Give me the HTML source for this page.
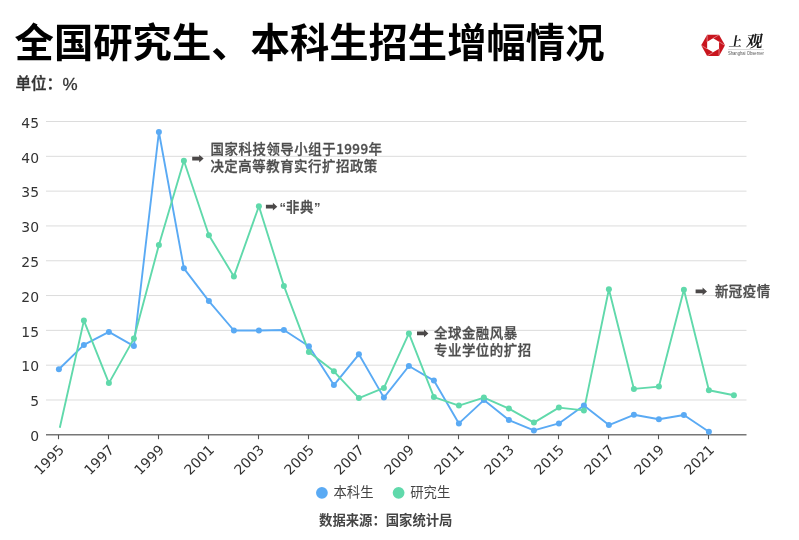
<!DOCTYPE html>
<html lang="zh-CN">
<head>
<meta charset="utf-8">
<title>全国研究生、本科生招生增幅情况</title>
<style>
html,body{margin:0;padding:0;background:#fff;}
body{width:799px;height:540px;overflow:hidden;position:relative;font-family:"Liberation Sans","Noto Sans CJK SC",sans-serif;}
#title{position:absolute;left:14.6px;top:10.7px;margin:0;font-size:39.35px;line-height:58px;font-weight:700;color:#000;white-space:nowrap;letter-spacing:0;font-family:"Noto Sans CJK SC","Liberation Sans",sans-serif;}
#unit{position:absolute;left:15.5px;top:71px;font-size:15.5px;line-height:22px;font-weight:500;color:#333;white-space:nowrap;font-family:"Liberation Sans","Noto Sans CJK SC",sans-serif;}
#unit .cn{font-family:"Noto Sans CJK SC",sans-serif;font-weight:500;-webkit-text-stroke:0.35px #333;}
#unit .pc{-webkit-text-stroke:0.3px #333;font-size:17px;position:relative;left:0.5px;top:0.5px;}
#chart{position:absolute;left:0;top:0;}
#chart text{font-family:"Liberation Sans","Noto Sans CJK SC",sans-serif;}
.ax text{font-family:"DejaVu Sans","Liberation Sans",sans-serif !important;font-size:13.9px;fill:#333;}
.note text{font-size:13.4px;letter-spacing:0.56px;font-weight:500;fill:#4d4d4d;stroke:#4d4d4d;stroke-width:0.3px;font-family:"Noto Sans CJK SC","Liberation Sans",sans-serif;}
#chart .note tspan.num{font-family:"Noto Sans CJK SC",sans-serif;letter-spacing:0.45px;}
#chart .note tspan.q{font-family:"Liberation Sans",sans-serif;font-weight:700;font-size:13px;stroke:none;letter-spacing:0;}
.legend text{font-size:13.33px;fill:#444;font-family:"Noto Sans CJK SC","Liberation Sans",sans-serif;}
.src{font-size:13.33px;font-weight:700;fill:#444;font-family:"Noto Sans CJK SC","Liberation Sans",sans-serif;}
#chart text.logo-cn{font-family:"Noto Serif CJK SC","Liberation Serif",serif;font-size:14px;font-weight:700;fill:#1a1a1a;}
#chart text.logo-en{font-family:"Liberation Sans",sans-serif;font-size:4.5px;fill:#555;}
</style>
</head>
<body>
<h1 id="title">全国研究生、本科生招生增幅情况</h1>
<div id="unit"><span class="cn">单位：</span><span class="pc">%</span></div>
<svg id="chart" width="799" height="540" viewBox="0 0 799 540">
<g class="grid">
<line x1="46" x2="746.5" y1="399.99" y2="399.99" stroke="#dcdcdc" stroke-width="1"/>
<line x1="46" x2="746.5" y1="365.18" y2="365.18" stroke="#dcdcdc" stroke-width="1"/>
<line x1="46" x2="746.5" y1="330.37" y2="330.37" stroke="#dcdcdc" stroke-width="1"/>
<line x1="46" x2="746.5" y1="295.56" y2="295.56" stroke="#dcdcdc" stroke-width="1"/>
<line x1="46" x2="746.5" y1="260.75" y2="260.75" stroke="#dcdcdc" stroke-width="1"/>
<line x1="46" x2="746.5" y1="225.94" y2="225.94" stroke="#dcdcdc" stroke-width="1"/>
<line x1="46" x2="746.5" y1="191.13" y2="191.13" stroke="#dcdcdc" stroke-width="1"/>
<line x1="46" x2="746.5" y1="156.32" y2="156.32" stroke="#dcdcdc" stroke-width="1"/>
<line x1="46" x2="746.5" y1="121.51" y2="121.51" stroke="#dcdcdc" stroke-width="1"/>
</g>
<g class="ax">
<text x="39" y="441.10" text-anchor="end">0</text>
<text x="39" y="406.29" text-anchor="end">5</text>
<text x="39" y="371.48" text-anchor="end">10</text>
<text x="39" y="336.67" text-anchor="end">15</text>
<text x="39" y="301.86" text-anchor="end">20</text>
<text x="39" y="267.05" text-anchor="end">25</text>
<text x="39" y="232.24" text-anchor="end">30</text>
<text x="39" y="197.43" text-anchor="end">35</text>
<text x="39" y="162.62" text-anchor="end">40</text>
<text x="39" y="127.81" text-anchor="end">45</text>
<line x1="46" x2="746.5" y1="434.8" y2="434.8" stroke="#777" stroke-width="1.5"/>
<line x1="58.5" x2="58.5" y1="434.8" y2="439.2" stroke="#555" stroke-width="1.1"/>
<line x1="108.5" x2="108.5" y1="434.8" y2="439.2" stroke="#555" stroke-width="1.1"/>
<line x1="158.5" x2="158.5" y1="434.8" y2="439.2" stroke="#555" stroke-width="1.1"/>
<line x1="208.5" x2="208.5" y1="434.8" y2="439.2" stroke="#555" stroke-width="1.1"/>
<line x1="258.5" x2="258.5" y1="434.8" y2="439.2" stroke="#555" stroke-width="1.1"/>
<line x1="308.5" x2="308.5" y1="434.8" y2="439.2" stroke="#555" stroke-width="1.1"/>
<line x1="358.5" x2="358.5" y1="434.8" y2="439.2" stroke="#555" stroke-width="1.1"/>
<line x1="408.5" x2="408.5" y1="434.8" y2="439.2" stroke="#555" stroke-width="1.1"/>
<line x1="458.5" x2="458.5" y1="434.8" y2="439.2" stroke="#555" stroke-width="1.1"/>
<line x1="508.5" x2="508.5" y1="434.8" y2="439.2" stroke="#555" stroke-width="1.1"/>
<line x1="558.5" x2="558.5" y1="434.8" y2="439.2" stroke="#555" stroke-width="1.1"/>
<line x1="608.5" x2="608.5" y1="434.8" y2="439.2" stroke="#555" stroke-width="1.1"/>
<line x1="658.5" x2="658.5" y1="434.8" y2="439.2" stroke="#555" stroke-width="1.1"/>
<line x1="708.5" x2="708.5" y1="434.8" y2="439.2" stroke="#555" stroke-width="1.1"/>
<text transform="translate(65.1,450.8) rotate(-45)" text-anchor="end">1995</text>
<text transform="translate(115.1,450.8) rotate(-45)" text-anchor="end">1997</text>
<text transform="translate(165.1,450.8) rotate(-45)" text-anchor="end">1999</text>
<text transform="translate(215.1,450.8) rotate(-45)" text-anchor="end">2001</text>
<text transform="translate(265.1,450.8) rotate(-45)" text-anchor="end">2003</text>
<text transform="translate(315.1,450.8) rotate(-45)" text-anchor="end">2005</text>
<text transform="translate(365.1,450.8) rotate(-45)" text-anchor="end">2007</text>
<text transform="translate(415.1,450.8) rotate(-45)" text-anchor="end">2009</text>
<text transform="translate(465.1,450.8) rotate(-45)" text-anchor="end">2011</text>
<text transform="translate(515.1,450.8) rotate(-45)" text-anchor="end">2013</text>
<text transform="translate(565.1,450.8) rotate(-45)" text-anchor="end">2015</text>
<text transform="translate(615.1,450.8) rotate(-45)" text-anchor="end">2017</text>
<text transform="translate(665.1,450.8) rotate(-45)" text-anchor="end">2019</text>
<text transform="translate(715.1,450.8) rotate(-45)" text-anchor="end">2021</text>
</g>
<g class="series">
<polyline points="58.9,369.2 83.9,344.9 108.9,331.9 133.9,346.1 158.9,132.0 183.9,268.3 208.9,301.1 233.9,330.5 258.9,330.5 283.9,330.0 308.9,346.3 333.9,385.1 358.9,354.3 383.9,397.6 408.9,366.0 433.9,380.6 458.9,423.4 483.9,400.1 508.9,420.1 533.9,430.4 558.9,423.4 583.9,405.4 608.9,425.1 633.9,414.8 658.9,419.3 683.9,415.0 708.9,431.8" fill="none" stroke="#5aaaf4" stroke-width="1.9" stroke-linejoin="round" stroke-linecap="butt"/>
<polyline points="59.8,427.7 83.9,320.6 108.9,383.1 133.9,338.6 158.9,245.0 183.9,160.8 208.9,235.2 233.9,276.4 258.9,206.3 283.9,285.9 308.9,352.1 333.9,371.3 358.9,398.1 383.9,387.9 408.9,333.4 433.9,397.1 458.9,405.6 483.9,397.6 508.9,408.6 533.9,422.6 558.9,407.6 583.9,410.4 608.9,289.3 633.9,388.9 658.9,386.6 683.9,289.8 708.9,390.2 733.9,395.2" fill="none" stroke="#60d9ab" stroke-width="1.9" stroke-linejoin="round" stroke-linecap="butt"/>
<circle cx="58.9" cy="369.2" r="3" fill="#5aaaf4"/>
<circle cx="83.9" cy="344.9" r="3" fill="#5aaaf4"/>
<circle cx="108.9" cy="331.9" r="3" fill="#5aaaf4"/>
<circle cx="133.9" cy="346.1" r="3" fill="#5aaaf4"/>
<circle cx="158.9" cy="132.0" r="3" fill="#5aaaf4"/>
<circle cx="183.9" cy="268.3" r="3" fill="#5aaaf4"/>
<circle cx="208.9" cy="301.1" r="3" fill="#5aaaf4"/>
<circle cx="233.9" cy="330.5" r="3" fill="#5aaaf4"/>
<circle cx="258.9" cy="330.5" r="3" fill="#5aaaf4"/>
<circle cx="283.9" cy="330.0" r="3" fill="#5aaaf4"/>
<circle cx="308.9" cy="346.3" r="3" fill="#5aaaf4"/>
<circle cx="333.9" cy="385.1" r="3" fill="#5aaaf4"/>
<circle cx="358.9" cy="354.3" r="3" fill="#5aaaf4"/>
<circle cx="383.9" cy="397.6" r="3" fill="#5aaaf4"/>
<circle cx="408.9" cy="366.0" r="3" fill="#5aaaf4"/>
<circle cx="433.9" cy="380.6" r="3" fill="#5aaaf4"/>
<circle cx="458.9" cy="423.4" r="3" fill="#5aaaf4"/>
<circle cx="483.9" cy="400.1" r="3" fill="#5aaaf4"/>
<circle cx="508.9" cy="420.1" r="3" fill="#5aaaf4"/>
<circle cx="533.9" cy="430.4" r="3" fill="#5aaaf4"/>
<circle cx="558.9" cy="423.4" r="3" fill="#5aaaf4"/>
<circle cx="583.9" cy="405.4" r="3" fill="#5aaaf4"/>
<circle cx="608.9" cy="425.1" r="3" fill="#5aaaf4"/>
<circle cx="633.9" cy="414.8" r="3" fill="#5aaaf4"/>
<circle cx="658.9" cy="419.3" r="3" fill="#5aaaf4"/>
<circle cx="683.9" cy="415.0" r="3" fill="#5aaaf4"/>
<circle cx="708.9" cy="431.8" r="3" fill="#5aaaf4"/>
<circle cx="83.9" cy="320.6" r="3" fill="#60d9ab"/>
<circle cx="108.9" cy="383.1" r="3" fill="#60d9ab"/>
<circle cx="133.9" cy="338.6" r="3" fill="#60d9ab"/>
<circle cx="158.9" cy="245.0" r="3" fill="#60d9ab"/>
<circle cx="183.9" cy="160.8" r="3" fill="#60d9ab"/>
<circle cx="208.9" cy="235.2" r="3" fill="#60d9ab"/>
<circle cx="233.9" cy="276.4" r="3" fill="#60d9ab"/>
<circle cx="258.9" cy="206.3" r="3" fill="#60d9ab"/>
<circle cx="283.9" cy="285.9" r="3" fill="#60d9ab"/>
<circle cx="308.9" cy="352.1" r="3" fill="#60d9ab"/>
<circle cx="333.9" cy="371.3" r="3" fill="#60d9ab"/>
<circle cx="358.9" cy="398.1" r="3" fill="#60d9ab"/>
<circle cx="383.9" cy="387.9" r="3" fill="#60d9ab"/>
<circle cx="408.9" cy="333.4" r="3" fill="#60d9ab"/>
<circle cx="433.9" cy="397.1" r="3" fill="#60d9ab"/>
<circle cx="458.9" cy="405.6" r="3" fill="#60d9ab"/>
<circle cx="483.9" cy="397.6" r="3" fill="#60d9ab"/>
<circle cx="508.9" cy="408.6" r="3" fill="#60d9ab"/>
<circle cx="533.9" cy="422.6" r="3" fill="#60d9ab"/>
<circle cx="558.9" cy="407.6" r="3" fill="#60d9ab"/>
<circle cx="583.9" cy="410.4" r="3" fill="#60d9ab"/>
<circle cx="608.9" cy="289.3" r="3" fill="#60d9ab"/>
<circle cx="633.9" cy="388.9" r="3" fill="#60d9ab"/>
<circle cx="658.9" cy="386.6" r="3" fill="#60d9ab"/>
<circle cx="683.9" cy="289.8" r="3" fill="#60d9ab"/>
<circle cx="708.9" cy="390.2" r="3" fill="#60d9ab"/>
<circle cx="733.9" cy="395.2" r="3" fill="#60d9ab"/>
</g>
<g class="note">
<path class="arr" d="M192.2,156.75h7v-2.05l4.4,3.9l-4.4,3.9v-2.05h-7z" fill="#4b4848"/>
<text x="210.6" y="153.9">国家科技领导小组于<tspan class="num">1999</tspan>年</text>
<text x="210.4" y="171">决定高等教育实行扩招政策</text>
<path class="arr" d="M265.9,204.85h7v-2.05l4.4,3.9l-4.4,3.9v-2.05h-7z" fill="#4b4848"/>
<text x="279.5" y="212"><tspan class="q">“</tspan>非典<tspan class="q">”</tspan></text>
<path class="arr" d="M417.0,331.55h7v-2.05l4.4,3.9l-4.4,3.9v-2.05h-7z" fill="#4b4848"/>
<text x="434" y="337.7">全球金融风暴</text>
<text x="434" y="354.8">专业学位的扩招</text>
<path class="arr" d="M695.6,289.55h7v-2.05l4.4,3.9l-4.4,3.9v-2.05h-7z" fill="#4b4848"/>
<text x="714.9" y="295.8">新冠疫情</text>
</g>
<g class="legend">
<circle cx="321.9" cy="492.8" r="5.9" fill="#5aaaf4"/>
<text x="333.5" y="497.2">本科生</text>
<circle cx="398.6" cy="492.8" r="5.9" fill="#60d9ab"/>
<text x="410.3" y="497.2">研究生</text>
</g>
<text class="src" x="319.1" y="525.2">数据来源：国家统计局</text>
<g class="logo">
<polygon points="725.00,45.35 719.05,34.82 707.15,34.82 701.20,45.35 707.15,55.88 719.05,55.88" fill="#c9151e"/>
<polygon points="719.05,41.84 713.10,38.33 707.15,41.84 707.15,48.86 713.10,52.37 719.05,48.86" fill="#fff"/>
<g stroke="#fff" stroke-width="0.55" stroke-opacity="0.75"><line x1="719.05" y1="41.84" x2="725.00" y2="45.35"/><line x1="713.10" y1="38.33" x2="719.05" y2="34.82"/><line x1="707.15" y1="41.84" x2="707.15" y2="34.82"/><line x1="707.15" y1="48.86" x2="701.20" y2="45.35"/><line x1="713.10" y1="52.37" x2="707.15" y2="55.88"/><line x1="719.05" y1="48.86" x2="719.05" y2="55.88"/></g>
<g transform="translate(728.6,45.9) skewX(-9)"><text class="logo-cn" x="0" y="0" style="font-size:13px">上</text><text class="logo-cn" x="17" y="0.9" style="font-size:16.5px">观</text></g>
<line x1="728" x2="764" y1="49.55" y2="49.55" stroke="#bdbdbd" stroke-width="0.6"/>
<text class="logo-en" x="727.9" y="54.7" textLength="36" lengthAdjust="spacingAndGlyphs">Shanghai Observer</text>
</g>
</svg>
</body>
</html>
